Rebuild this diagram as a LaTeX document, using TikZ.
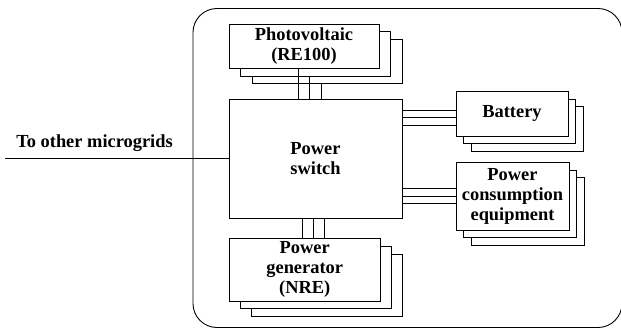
\documentclass[tikz,border=0pt]{standalone}
\usepackage{fontspec}
\setmainfont{Liberation Serif}
\begin{document}
\begin{tikzpicture}[x=1pt,y=-1pt,line width=0.9pt,font=\fontsize{18.4}{20}\selectfont\bfseries,
	unit/.style 2 args={draw,fill=white,align=center,inner sep=0pt,minimum width=#1,minimum height=#2}]
	\useasboundingbox (0,0) rectangle (621,329);
	\draw[rounded corners=24] (193,8.5) rectangle (622,327.5);
	\coordinate (mg) at (5,158.75);
	\node[anchor=base] (lbl) at (94.5,147.3) {To other microgrids};
	\node[unit={173}{119.5}] (sw) at (315.5,158.75) {Power\\switch};
	\draw (mg)--(sw.west);
	% photovoltaic
	\foreach \k in {3,2} \node[unit={150}{44.5}] (pv\k) at ({304+11.5*(\k-1)},{46.3+7.5*(\k-1)}) {};
	\node[unit={150}{44.5}] (pv1) at (304,46.3) {Photovoltaic\\(RE100)};
	\foreach \k in {1,2,3} \draw ([xshift=-6]pv\k.south)--([xshift=-6]pv\k.south |- sw.north);
	% battery
	\foreach \k in {3,2} \node[unit={112}{44.3}] (bat\k) at ({512+7.5*(\k-1)},{113.9+7.5*(\k-1)}) {};
	\node[unit={112}{44.3}] (bat1) at (512,113.9) {Battery};
	\foreach \k in {1,2,3} \draw ([yshift=3.5]bat\k.center -| sw.east)--([yshift=3.5]bat\k.center -| bat1.west);
	% consumption
	\foreach \k in {3,2} \node[unit={113}{67.3}] (load\k) at ({512.5+7.5*(\k-1)},{196.4+7.5*(\k-1)}) {};
	\node[unit={113}{67.3}] (load1) at (512.5,196.4) {Power\\consumption\\equipment};
	\foreach \k in {1,2,3} \draw ([yshift=7.5]load\k.center -| sw.east)--([yshift=7.5]load\k.center -| load1.west);
	% generator
	\foreach \k in {3,2} \node[unit={150.7}{62.7}] (gen\k) at ({304.7+11*(\k-1)},{269.7+7.8*(\k-1)}) {};
	\node[unit={150.7}{62.7}] (gen1) at (304.7,269.7) {Power\\generator\\(NRE)};
	\foreach \k in {1,2,3} \draw ([xshift=-2.4]gen\k.center |- sw.south)--([xshift=-2.4]gen\k.center |- gen1.north);
\end{tikzpicture}
\end{document}
